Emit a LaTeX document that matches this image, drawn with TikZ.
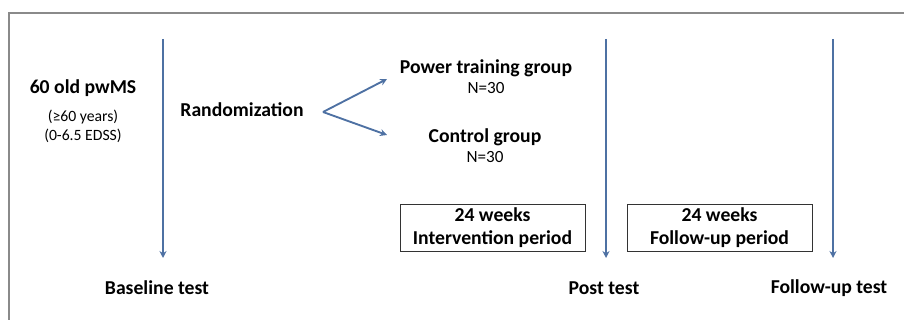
\documentclass[tikz,border=0pt]{standalone}
\usepackage{fontspec}
\setmainfont{Carlito}
\usetikzlibrary{arrows.meta,positioning}
\definecolor{arrowblue}{HTML}{4E71A3}
\definecolor{framegrey}{HTML}{8A8A8A}
\definecolor{boxline}{HTML}{333333}

\begin{document}
\begin{tikzpicture}[
    x=0.03cm, y=-0.03cm,
    node distance=0.1cm,
    headtext/.style={font=\fontsize{16.8}{19}\selectfont\bfseries, inner sep=0pt},
    subtext/.style={font=\fontsize{13.4}{16.2}\selectfont, inner sep=0pt, align=center},
    ntext/.style={font=\fontsize{14.6}{17}\selectfont, inner sep=0pt},
    period/.style={rectangle, draw=boxline, line width=0.7pt, minimum width=185*0.03cm, minimum height=47*0.03cm, align=center, inner sep=0pt, font=\fontsize{16.8}{19.5}\selectfont\bfseries},
    timeline/.style={draw=arrowblue, line width=1.6pt, -{Stealth[length=6pt, width=6pt]}},
    split/.style={draw=arrowblue, line width=1.6pt, -{Stealth[length=6pt, width=6pt]}},
]
\clip (0,0) rectangle (904,320);
\useasboundingbox (0,0) rectangle (904,320);

% Frame (runs out of the picture on the right and at the bottom)
\draw[framegrey, line width=1.4pt] (9,340) -- (9,13) -- (920,13);

% Timeline coordinates
\coordinate (top1) at (163,39);
\coordinate (end1) at (163,258);
\coordinate (top2) at (606,39);
\coordinate (end2) at (606,258);
\coordinate (top3) at (833,39);
\coordinate (end3) at (833,258);

% Participants
\node[headtext] (pwms) at (83,88) {60 old pwMS};
\node[subtext, below=0.4cm of pwms] (crit) {(≥60 years)\\(0-6.5 EDSS)};

% Randomization
\node[headtext] (rand) at (242,110) {Randomization};
\coordinate (fork) at (323,112);
\coordinate (toptr) at (387,79);
\coordinate (tocg) at (387,135);

% Groups
\node[headtext] (ptg) at (486,68) {Power training group};
\node[ntext, below=0.17cm of ptg] (n1) {N=30};
\node[headtext] (cg) at (485,137) {Control group};
\node[ntext, below=0.17cm of cg] (n2) {N=30};

% Periods
\node[period] (interv) at (492.5,227.5) {24 weeks\\Intervention period};
\node[period] (follow) at (719.5,227.5) {24 weeks\\Follow-up period};

% Tests
\node[headtext] (base) at (157,288) {Baseline test};
\node[headtext] (post) at (604,288) {Post test};
\node[headtext] (fut) at (829,288) {Follow-up test};

% Arrows
\draw[timeline] (top1) -- (end1);
\draw[timeline] (top2) -- (end2);
\draw[timeline] (top3) -- (end3);
\draw[split] (fork) -- (toptr);
\draw[split] (fork) -- (tocg);

\end{tikzpicture}
\end{document}
